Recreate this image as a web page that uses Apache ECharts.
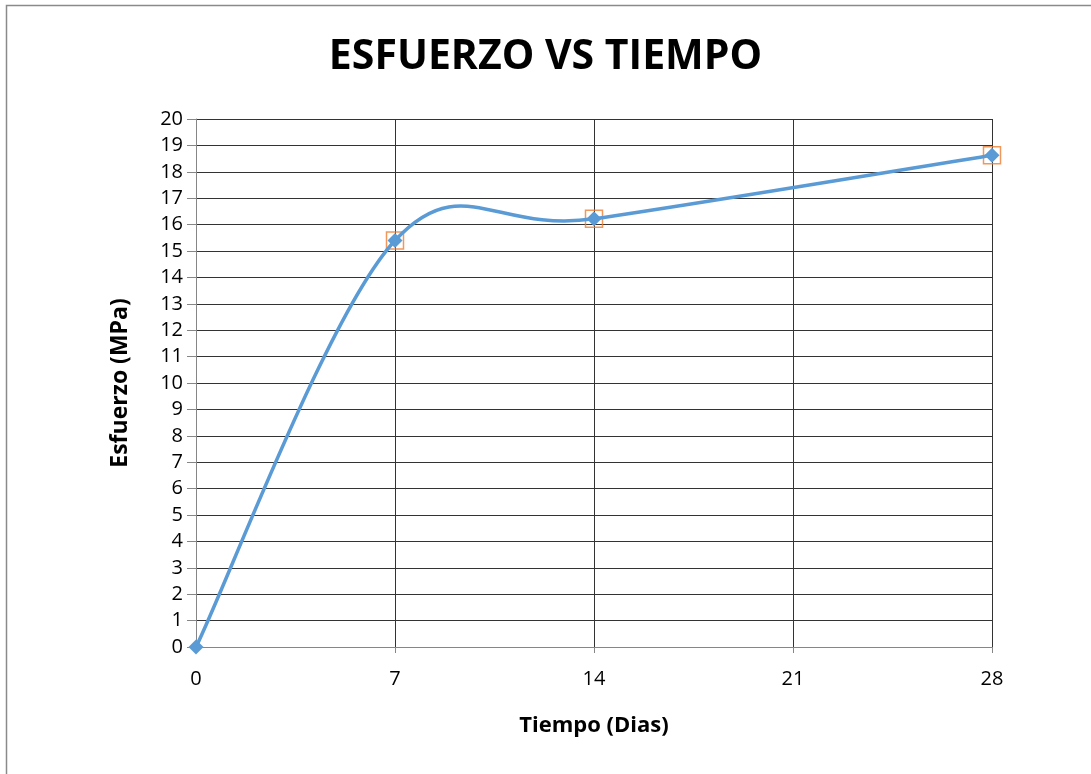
<!DOCTYPE html>
<html><head><meta charset="utf-8">
<script src="https://cdn.jsdelivr.net/npm/echarts@6/dist/echarts.min.js"></script>
<style>html,body{margin:0;padding:0;background:#fff}#c{width:1091px;height:774px}</style>
</head><body><div id="c"></div>
<script>
const days = [0, 7, 14, 28];
const stress = [0, 15.4, 16.22, 18.63];
const markedDays = [7, 14, 28];
const markedStress = [15.4, 16.22, 18.63];

const chart = echarts.init(document.getElementById('c'));
const font = '"Open Sans", "Liberation Sans", sans-serif';

// Excel-style smoothed segment (Catmull-Rom, tension 1/6) computed in pixel space via the axes
function renderSegment(params, api) {
  const i = params.dataIndex;
  const n = days.length;
  if (i >= n - 1) return null;
  const P = k => api.coord([days[Math.max(0, Math.min(n - 1, k))], stress[Math.max(0, Math.min(n - 1, k))]]);
  const p0 = P(i - 1), p1 = P(i), p2 = P(i + 1), p3 = P(i + 2);
  return {
    type: 'bezierCurve',
    shape: {
      x1: p1[0], y1: p1[1], x2: p2[0], y2: p2[1],
      cpx1: p1[0] + (p2[0] - p0[0]) / 6, cpy1: p1[1] + (p2[1] - p0[1]) / 6,
      cpx2: p2[0] - (p3[0] - p1[0]) / 6, cpy2: p2[1] - (p3[1] - p1[1]) / 6
    },
    style: {stroke: '#5B9BD5', lineWidth: 3.5, fill: null, lineCap: 'round'}
  };
}

chart.setOption({
  animation: false,
  title: {text: 'ESFUERZO VS TIEMPO', left: 'center', top: 32,
    textStyle: {fontFamily: font, fontWeight: 'bold', fontSize: 41, color: '#000'}},
  graphic: [{type: 'rect', shape: {x: 6.5, y: 5.5, width: 1200, height: 1000},
    style: {fill: 'none', stroke: '#8a8a8a', lineWidth: 1.5}, silent: true}],
  grid: {left: 196, right: 99, top: 119, bottom: 127},
  xAxis: {type: 'value', min: 0, max: 28, interval: 7,
    name: 'Tiempo (Dias)', nameLocation: 'middle', nameGap: 68,
    nameTextStyle: {fontFamily: font, fontWeight: 'bold', fontSize: 22, color: '#000'},
    axisLine: {onZero: false, lineStyle: {color: '#868686', width: 1}},
    axisTick: {show: true, length: 6, lineStyle: {color: '#868686'}},
    axisLabel: {fontFamily: font, fontSize: 20, color: '#000', margin: 22},
    splitLine: {show: true, lineStyle: {color: '#333', width: 1}}},
  yAxis: {type: 'value', min: 0, max: 20, interval: 1,
    name: 'Esfuerzo (MPa)', nameLocation: 'middle', nameGap: 64, nameRotate: 90,
    nameTextStyle: {fontFamily: font, fontWeight: 'bold', fontSize: 23, color: '#000'},
    axisLine: {show: true, lineStyle: {color: '#868686', width: 1}},
    axisTick: {show: true, length: 9, lineStyle: {color: '#868686'}},
    axisLabel: {fontFamily: font, fontSize: 20, color: '#000', margin: 13},
    splitLine: {show: true, lineStyle: {color: '#333', width: 1}}},
  series: [
    {type: 'scatter', z: 1, data: markedDays.map((d, i) => [d, markedStress[i]]),
      symbol: 'rect', symbolSize: 17,
      itemStyle: {color: 'rgba(0,0,0,0)', borderColor: '#ED7D31', borderWidth: 1.5}},
    {type: 'custom', z: 2, renderItem: renderSegment,
      data: days.map((d, i) => [d, stress[i]]), clip: false},
    {type: 'scatter', z: 3, data: days.map((d, i) => [d, stress[i]]),
      symbol: 'diamond', symbolSize: 15,
      itemStyle: {color: '#5B9BD5', opacity: 1}}
  ]
});
</script></body></html>
